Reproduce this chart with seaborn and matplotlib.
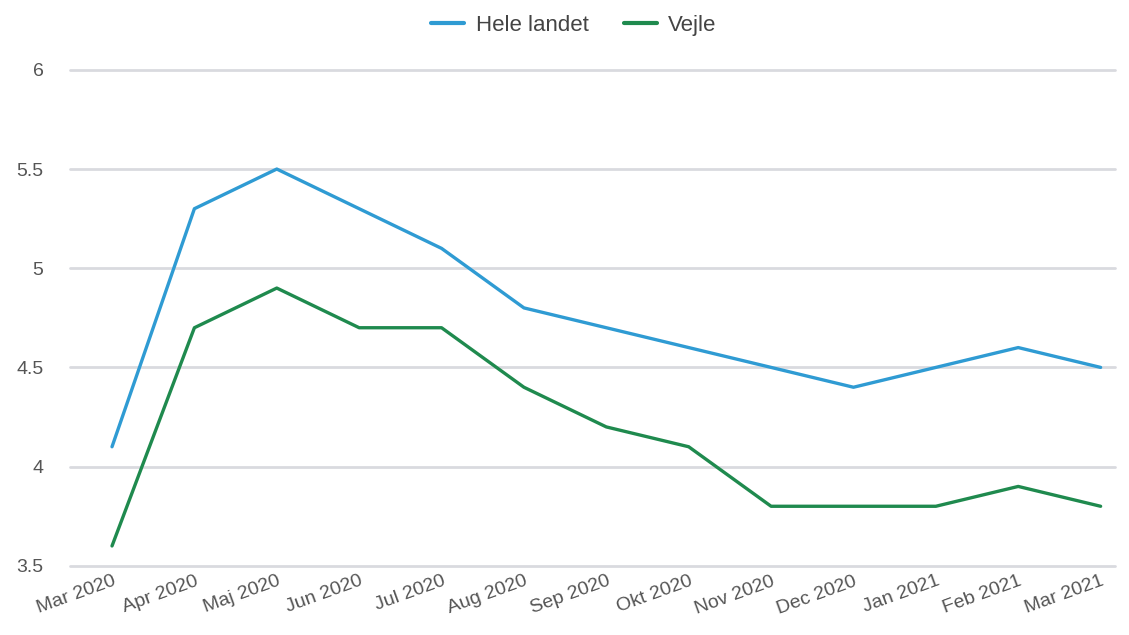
import pandas as pd
import matplotlib.pyplot as plt
import seaborn as sns

months = ["Mar 2020", "Apr 2020", "Maj 2020", "Jun 2020", "Jul 2020", "Aug 2020",
          "Sep 2020", "Okt 2020", "Nov 2020", "Dec 2020", "Jan 2021", "Feb 2021",
          "Mar 2021"]
hele_landet = [4.1, 5.3, 5.5, 5.3, 5.1, 4.8, 4.7, 4.6, 4.5, 4.4, 4.5, 4.6, 4.5]
vejle = [3.6, 4.7, 4.9, 4.7, 4.7, 4.4, 4.2, 4.1, 3.8, 3.8, 3.8, 3.9, 3.8]
yticks = [3.5, 4, 4.5, 5, 5.5, 6]
ytick_labels = ["3.5", "4", "4.5", "5", "5.5", "6"]

df = pd.DataFrame({
    "month": months * 2,
    "value": hele_landet + vejle,
    "serie": ["Hele landet"] * len(months) + ["Vejle"] * len(months),
})
df["pos"] = list(range(len(months))) * 2

sns.set_style("white")
plt.rcParams["font.family"] = ["Liberation Sans", "DejaVu Sans"]

fig = plt.figure(figsize=(11.29, 6.35), dpi=100)
ax = fig.add_axes([0.062, 0.109, 0.926, 0.781])

palette = {"Hele landet": "#2f9bd3", "Vejle": "#1f8a4e"}
sns.lineplot(data=df, x="pos", y="value", hue="serie", palette=palette,
             linewidth=2.4, ax=ax, legend=True)

for y in yticks:
    ax.axhline(y, color="#d9dadf", linewidth=2, zorder=0, clip_on=False)

ax.set_xlim(-0.51, 12.18)
ax.set_ylim(3.5, 6)
ax.set_yticks(yticks)
ax.set_yticklabels(ytick_labels, fontsize=14, color="#555555")
ax.set_xticks(range(len(months)))
ax.set_xticklabels(months, rotation=20, ha="right", rotation_mode="anchor",
                   fontsize=14, color="#555555")
ax.tick_params(axis="y", length=0, pad=19)
ax.tick_params(axis="x", length=0, pad=5)
ax.set_xlabel("")
ax.set_ylabel("")
for s in ax.spines.values():
    s.set_visible(False)

leg = ax.legend(loc="center", bbox_to_anchor=(0.482, 1.09), ncol=2,
                frameon=False, fontsize=16, handlelength=1.5, columnspacing=1.6,
                handletextpad=0.5)
for t in leg.get_texts():
    t.set_color("#444444")
for h in leg.get_lines():
    h.set_linewidth(3)

fig.savefig("out.png", dpi=100)
